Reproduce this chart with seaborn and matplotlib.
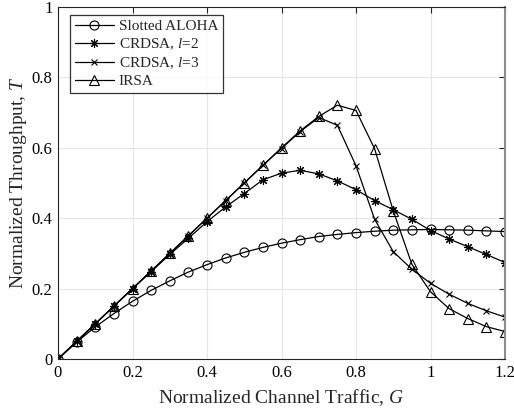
import matplotlib
matplotlib.use("Agg")
import matplotlib.pyplot as plt
import seaborn as sns
import pandas as pd

G = [0.0, 0.05, 0.1, 0.15, 0.2, 0.25, 0.3, 0.35, 0.4, 0.45, 0.5, 0.55, 0.6,
     0.65, 0.7, 0.75, 0.8, 0.85, 0.9, 0.95, 1.0, 1.05, 1.1, 1.15, 1.2]

aloha = [0.0, 0.048, 0.091, 0.129, 0.164, 0.195, 0.222, 0.247, 0.268, 0.287,
         0.303, 0.317, 0.329, 0.339, 0.348, 0.354, 0.359, 0.363, 0.366, 0.367,
         0.368, 0.367, 0.366, 0.364, 0.362]
crdsa2 = [0.0, 0.05, 0.1, 0.15, 0.2, 0.248, 0.297, 0.343, 0.39, 0.432,
          0.47, 0.509, 0.528, 0.536, 0.526, 0.506, 0.481, 0.45, 0.424, 0.397,
          0.365, 0.341, 0.319, 0.297, 0.274]
crdsa3 = [0.0, 0.05, 0.1, 0.15, 0.2, 0.25, 0.3, 0.35, 0.4, 0.45,
          0.5, 0.55, 0.598, 0.646, 0.686, 0.664, 0.549, 0.397, 0.305, 0.255,
          0.215, 0.184, 0.158, 0.137, 0.119]
irsa = [0.0, 0.05, 0.1, 0.15, 0.2, 0.25, 0.3, 0.35, 0.4, 0.45,
        0.5, 0.55, 0.6, 0.648, 0.689, 0.721, 0.706, 0.597, 0.421, 0.269,
        0.191, 0.143, 0.115, 0.092, 0.078]

labels = ["Slotted ALOHA", "CRDSA, $l$=2", "CRDSA, $l$=3", "IRSA"]

df = pd.concat([
    pd.DataFrame({"G": G, "T": vals, "Scheme": lab})
    for vals, lab in zip([aloha, crdsa2, crdsa3, irsa], labels)
])

sns.set_style("white")
plt.rcParams["font.family"] = ["Liberation Serif", "DejaVu Serif"]
plt.rcParams["mathtext.fontset"] = "custom"
plt.rcParams["mathtext.it"] = "Liberation Serif:italic"
plt.rcParams["mathtext.rm"] = "Liberation Serif"

fig = plt.figure(figsize=(5.14, 4.11), dpi=100)
ax = fig.add_axes([58/514, 1 - 359/411, (505-58)/514, (359-7)/411])

styles = [
    dict(marker="o", markersize=6.5, markerfacecolor="none"),
    dict(marker=(8, 2, 0), markersize=6.5, markerfacecolor="black"),
    dict(marker="x", markersize=5, markerfacecolor="black"),
    dict(marker="^", markersize=7.5, markerfacecolor="none"),
]

for lab, st in zip(labels, styles):
    sub = df[df["Scheme"] == lab]
    sns.lineplot(data=sub, x="G", y="T", ax=ax, color="black", lw=0.9,
                 markeredgecolor="black", markeredgewidth=0.8, label=lab, **st)

ax.set_xlim(0, 1.2)
ax.set_ylim(0, 1)
ax.set_xticks([0, 0.2, 0.4, 0.6, 0.8, 1.0, 1.2])
ax.set_xticklabels(["0", "0.2", "0.4", "0.6", "0.8", "1", "1.2"])
ax.set_yticks([0, 0.2, 0.4, 0.6, 0.8, 1.0])
ax.set_yticklabels(["0", "0.2", "0.4", "0.6", "0.8", "1"])
ax.grid(True, color="#e6e6e6", lw=0.8)
ax.tick_params(direction="in", length=4, labelsize=12, colors="#262626",
               top=True, right=True, labelcolor="black", pad=4)
for s in ax.spines.values():
    s.set_color("#262626")
    s.set_linewidth(0.8)
ax.spines["right"].set_color("#8c8c8c")
ax.spines["right"].set_linewidth(1.5)

ax.set_xlabel("Normalized Channel Traffic, $G$", fontsize=14, labelpad=5)
ax.set_ylabel("Normalized Throughput, $T$", fontsize=14, labelpad=2)

leg = ax.legend(loc="upper left", fontsize=11, frameon=True, fancybox=False,
                edgecolor="black", handlelength=2.6, borderpad=0.3,
                labelspacing=0.22, handletextpad=0.3, borderaxespad=0,
                bbox_to_anchor=(12/447, 1 - 8/352))
leg.get_frame().set_linewidth(0.9)

fig.savefig("out.png", dpi=100)
